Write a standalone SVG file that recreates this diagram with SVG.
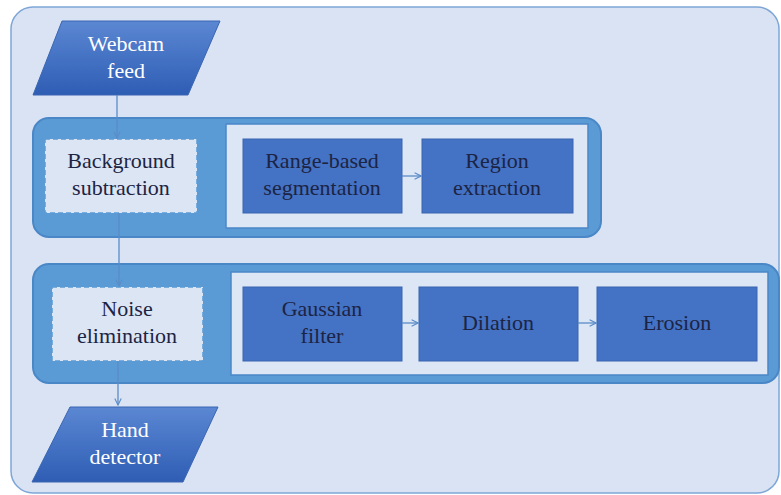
<svg xmlns="http://www.w3.org/2000/svg" width="781" height="495" viewBox="0 0 781 495">
<defs>
<linearGradient id="para" x1="0" y1="0" x2="0" y2="1">
<stop offset="0" stop-color="#5b87d2"/>
<stop offset="1" stop-color="#2e5db4"/>
</linearGradient>
<marker id="arr" viewBox="0 0 10 10" refX="9" refY="5" markerWidth="8" markerHeight="8" markerUnits="userSpaceOnUse" orient="auto">
<path d="M1,1 L9,5 L1,9" fill="none" stroke="#5a8cc8" stroke-width="1.4"/>
</marker>
</defs>
<rect x="0" y="0" width="781" height="495" fill="#ffffff"/>
<rect id="frame" x="11" y="7" width="768" height="486" rx="22" fill="#dae3f3" stroke="#7ea6d6" stroke-width="1.5"/>

<g fill="#5b9bd5" stroke="#4a87c7" stroke-width="2">
<rect id="band1" x="33" y="118" width="568" height="119" rx="16"/>
<rect id="band2" x="33" y="264" width="746" height="119" rx="16"/>
</g>
<g fill="#dde6f4" stroke="#4a87c7" stroke-width="1.5">
<rect id="panel1" x="226" y="124" width="362" height="104"/>
<rect id="panel2" x="231" y="272" width="537" height="103"/>
</g>

<g id="webcam">
<polygon points="62,21 220,21 188,95 33,95" fill="url(#para)" stroke="#3a65b2"/>
<text x="126" y="51" font-family="Liberation Serif" font-size="22" text-anchor="middle" fill="#ffffff">Webcam</text>
<text x="126" y="78" font-family="Liberation Serif" font-size="22" text-anchor="middle" fill="#ffffff">feed</text>
</g>

<g id="bgsub">
<rect x="45" y="139" width="152" height="74" fill="#dce5f3" stroke="#5b9bd5" stroke-width="1.5" stroke-dasharray="5,3"/>
<text x="121" y="168" font-family="Liberation Serif" font-size="22" text-anchor="middle" fill="#1c2444">Background</text>
<text x="121" y="195" font-family="Liberation Serif" font-size="22" text-anchor="middle" fill="#1c2444">subtraction</text>
</g>

<g id="rangeseg">
<rect x="243" y="139" width="159" height="74" fill="#4472c4" stroke="#3a65b2"/>
<text x="322" y="168" font-family="Liberation Serif" font-size="22" text-anchor="middle" fill="#1c2444">Range-based</text>
<text x="322" y="195" font-family="Liberation Serif" font-size="22" text-anchor="middle" fill="#1c2444">segmentation</text>
</g>

<g id="regionext">
<rect x="422" y="139" width="151" height="74" fill="#4472c4" stroke="#3a65b2"/>
<text x="497" y="168" font-family="Liberation Serif" font-size="22" text-anchor="middle" fill="#1c2444">Region</text>
<text x="497" y="195" font-family="Liberation Serif" font-size="22" text-anchor="middle" fill="#1c2444">extraction</text>
</g>

<g id="noise">
<rect x="52" y="287" width="151" height="74" fill="#dce5f3" stroke="#5b9bd5" stroke-width="1.5" stroke-dasharray="5,3"/>
<text x="127" y="316" font-family="Liberation Serif" font-size="22" text-anchor="middle" fill="#1c2444">Noise</text>
<text x="127" y="343" font-family="Liberation Serif" font-size="22" text-anchor="middle" fill="#1c2444">elimination</text>
</g>

<g id="gaussian">
<rect x="243" y="287" width="159" height="74" fill="#4472c4" stroke="#3a65b2"/>
<text x="322" y="316" font-family="Liberation Serif" font-size="22" text-anchor="middle" fill="#1c2444">Gaussian</text>
<text x="322" y="343" font-family="Liberation Serif" font-size="22" text-anchor="middle" fill="#1c2444">filter</text>
</g>

<g id="dilation">
<rect x="419" y="287" width="159" height="74" fill="#4472c4" stroke="#3a65b2"/>
<text x="498" y="330" font-family="Liberation Serif" font-size="22" text-anchor="middle" fill="#1c2444">Dilation</text>
</g>

<g id="erosion">
<rect x="597" y="287" width="160" height="74" fill="#4472c4" stroke="#3a65b2"/>
<text x="677" y="330" font-family="Liberation Serif" font-size="22" text-anchor="middle" fill="#1c2444">Erosion</text>
</g>

<g id="hand">
<polygon points="70,407 218,407 183,482 32,482" fill="url(#para)" stroke="#3a65b2"/>
<text x="125" y="437" font-family="Liberation Serif" font-size="22" text-anchor="middle" fill="#ffffff">Hand</text>
<text x="125" y="464" font-family="Liberation Serif" font-size="22" text-anchor="middle" fill="#ffffff">detector</text>
</g>

<g id="connectors" fill="none">
<g stroke="#5b9bd5" stroke-width="1.3" stroke-dasharray="5,3">
<line x1="197" y1="139" x2="226" y2="124"/>
<line x1="197" y1="213" x2="226" y2="228"/>
<line x1="203" y1="287" x2="231" y2="272"/>
<line x1="203" y1="361" x2="231" y2="375"/>
</g>
<g stroke="#5a8cc8" stroke-width="1.3" marker-end="url(#arr)">
<line x1="117" y1="95" x2="117" y2="138"/>
<line x1="119" y1="213" x2="119" y2="286"/>
<line x1="118" y1="361" x2="118" y2="405"/>
<line x1="402" y1="176" x2="421" y2="176"/>
<line x1="402" y1="323" x2="418" y2="323"/>
<line x1="578" y1="323" x2="596" y2="323"/>
</g>
</g>
</svg>
